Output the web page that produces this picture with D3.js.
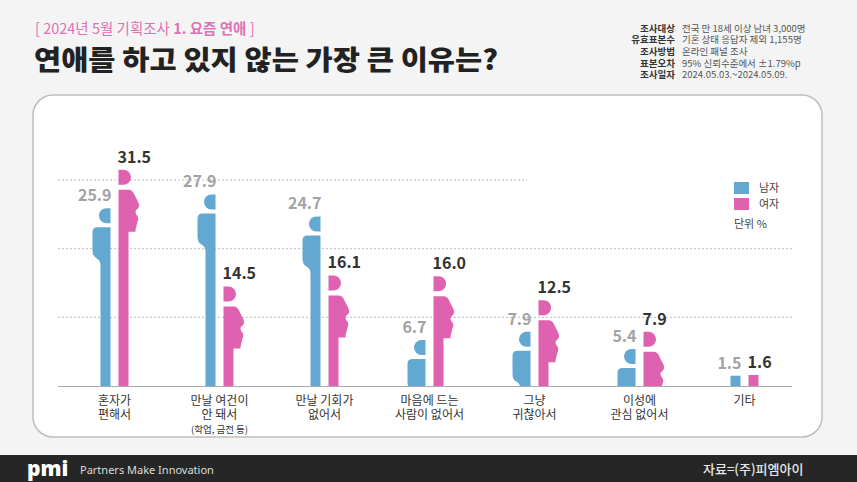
<!DOCTYPE html>
<html>
<head>
<meta charset="utf-8">
<script src="https://cdn.jsdelivr.net/npm/d3@7"></script>
<style>
  html, body { margin: 0; padding: 0; background: #f4f4f4; }
  svg { display: block; }
</style>
</head>
<body>
<script>
// 항목 / 값
const categories = ["혼자가 편해서", "만날 여건이 안 돼서", "만날 기회가 없어서", "마음에 드는 사람이 없어서", "그냥 귀찮아서", "이성에 관심 없어서", "기타"];
const categoryLines = [["혼자가", "편해서"], ["만날 여건이", "안 돼서"], ["만날 기회가", "없어서"], ["마음에 드는", "사람이 없어서"], ["그냥", "귀찮아서"], ["이성에", "관심 없어서"], ["기타"]];
const categoryNotes = ["", "(학업, 금전 등)", "", "", "", "", ""];
const male = [25.9, 27.9, 24.7, 6.7, 7.9, 5.4, 1.5];
const female = [31.5, 14.5, 16.1, 16.0, 12.5, 7.9, 1.6];
const gridValues = [10, 20, 30];

const infoLabels = ["조사대상", "유효표본수", "조사방법", "표본오차", "조사일자"];
const infoValues = ["전국 만 18세 이상 남녀 3,000명", "기혼 상태 응답자 제외 1,155명", "온라인 패널 조사", "95% 신뢰수준에서 ±1.79%p", "2024.05.03.~2024.05.09."];

const width = 857, height = 482;
const font = "'Noto Sans CJK KR', 'Noto Sans', sans-serif";
const blue = "#63a8d1", pink = "#df62b0";

const svg = d3.select("body").append("svg")
  .attr("width", width).attr("height", height)
  .style("font-family", font);

svg.append("rect").attr("width", width).attr("height", height).attr("fill", "#f4f4f4");

// 헤더
const sub = svg.append("text").attr("x", 35).attr("y", 34)
  .attr("font-size", 14.5).attr("fill", "#e070b8");
sub.append("tspan").text("[ 2024년 5월 기획조사 ");
sub.append("tspan").attr("font-weight", 700).text("1. 요즘 연애");
sub.append("tspan").text(" ]");

svg.append("text").attr("x", 34).attr("y", 70)
  .attr("font-size", 27).attr("font-weight", 900).attr("fill", "#222")
  .attr("textLength", 464).attr("lengthAdjust", "spacingAndGlyphs")
  .text("연애를 하고 있지 않는 가장 큰 이유는?");

// 조사 개요
const info = svg.append("g").attr("font-size", 9.5);
info.selectAll("text.lab").data(infoLabels).join("text")
  .attr("class", "lab")
  .attr("x", 675).attr("y", (d, i) => 31.5 + i * 11.7)
  .attr("text-anchor", "end").attr("font-weight", 700).attr("fill", "#333")
  .text(d => d);
info.selectAll("text.val").data(infoValues).join("text")
  .attr("class", "val")
  .attr("x", 682).attr("y", (d, i) => 31.5 + i * 11.7)
  .attr("fill", "#555")
  .text(d => d);

// 패널
svg.append("rect")
  .attr("x", 33).attr("y", 95).attr("width", 789).attr("height", 342).attr("rx", 20)
  .attr("fill", "#fff").attr("stroke", "#bdbdbd").attr("stroke-width", 1.5);

// 스케일
const x = d3.scaleBand().domain(categories).range([62, 797]);
const y = d3.scaleLinear().domain([0, 30]).range([386, 180]);
const baseY = y(0);

// 격자선
svg.append("g").selectAll("line").data(gridValues).join("line")
  .attr("x1", 58).attr("x2", d => d === 30 ? 527 : 792)
  .attr("y1", d => y(d)).attr("y2", d => y(d))
  .attr("stroke", "#bbb").attr("stroke-width", 1).attr("stroke-dasharray", "2,2");

// 기준선
svg.append("line").attr("x1", 58).attr("x2", 792).attr("y1", baseY + 0.5).attr("y2", baseY + 0.5)
  .attr("stroke", "#aaa").attr("stroke-width", 1.2);

// 막대 영역 잘라내기
svg.append("clipPath").attr("id", "plotClip")
  .append("rect").attr("x", 0).attr("y", 0).attr("width", width).attr("height", baseY);

const plot = svg.append("g").attr("clip-path", "url(#plotClip)");

// 사람 모양 (안쪽 가장자리 기준, 바깥쪽 방향 +u)
function maleParts(h) {
  const b = Math.max(h, 60);
  return [
    "M0,0 L4,0 A7.5,7.5 0 0 1 4,15 L0,15 Z",
    `M0,19 L13,19 Q18,19 18,24 L18,42 Q18,48 14,50 Q10,52 10,57 L10,${b} L0,${b} Z`
  ];
}
function femaleParts(h) {
  const b = Math.max(h, 66);
  return [
    "M0,0 L5,0 A7.5,7.5 0 0 1 5,15 L0,15 Z",
    `M0,20 L10,20 Q14,20 16,25 L20,33 Q22,37 18,40 Q16,42 18,45 Q21,48 19,52 L17,60 L17,62 L10,62 L10,${b} L0,${b} Z`
  ];
}

function drawPerson(value, cx, dir, color, partsFn) {
  const inner = cx + dir * 4;
  const top = y(value);
  const h = baseY - top;
  const g = plot.append("g").attr("fill", color);
  if (value < 3) {
    g.append("rect")
      .attr("x", dir < 0 ? inner - 10 : inner).attr("y", top)
      .attr("width", 10).attr("height", h);
  } else {
    g.attr("transform", `translate(${inner},${top}) scale(${dir},1)`);
    g.selectAll("path").data(partsFn(h)).join("path").attr("d", d => d);
  }
}

categories.forEach((c, i) => {
  const cx = x(c) + x.bandwidth() / 2;
  drawPerson(male[i], cx, -1, blue, maleParts);
  drawPerson(female[i], cx, 1, pink, femaleParts);
});

// 값 라벨
const labels = svg.append("g").attr("font-size", 16).attr("font-weight", 700);
labels.selectAll("text.m").data(male).join("text")
  .attr("class", "m")
  .attr("x", (d, i) => x(categories[i]) + x.bandwidth() / 2 - 3)
  .attr("y", d => y(d) - 7)
  .attr("text-anchor", "end").attr("fill", "#a3a3a3")
  .text(d => d.toFixed(1));
labels.selectAll("text.f").data(female).join("text")
  .attr("class", "f")
  .attr("x", (d, i) => x(categories[i]) + x.bandwidth() / 2 + 3)
  .attr("y", d => y(d) - 7)
  .attr("fill", "#333")
  .text(d => d.toFixed(1));

// 항목 라벨
const cat = svg.append("g").attr("font-size", 12).attr("fill", "#333").attr("text-anchor", "middle");
categories.forEach((c, i) => {
  const cx = x(c) + x.bandwidth() / 2;
  categoryLines[i].forEach((line, j) => {
    cat.append("text").attr("x", cx).attr("y", 405 + j * 14).text(line);
  });
  if (categoryNotes[i]) {
    cat.append("text").attr("x", cx).attr("y", 433).attr("font-size", 9.5).text(categoryNotes[i]);
  }
});

// 범례
const legend = svg.append("g").attr("font-size", 11).attr("fill", "#444");
[["남자", blue], ["여자", pink]].forEach(([name, color], i) => {
  legend.append("rect").attr("x", 734).attr("y", 182 + i * 16).attr("width", 15).attr("height", 12).attr("fill", color);
  legend.append("text").attr("x", 759).attr("y", 192 + i * 16).text(name);
});
legend.append("text").attr("x", 734).attr("y", 228).text("단위 %");

// 하단 바
svg.append("rect").attr("x", 0).attr("y", 455).attr("width", width).attr("height", height - 455).attr("fill", "#262626");
svg.append("text").attr("x", 27).attr("y", 476).attr("font-size", 21).attr("font-weight", 900)
  .attr("fill", "#fff").attr("font-family", "'Noto Sans', sans-serif").text("pmi");
svg.append("text").attr("x", 80).attr("y", 474).attr("font-size", 11).attr("fill", "#ddd")
  .attr("font-family", "'Noto Sans', sans-serif").text("Partners Make Innovation");
svg.append("text").attr("x", 703).attr("y", 474).attr("font-size", 13).attr("font-weight", 500).attr("fill", "#e6e6e6")
  .text("자료=(주)피엠아이");
</script>
</body>
</html>
